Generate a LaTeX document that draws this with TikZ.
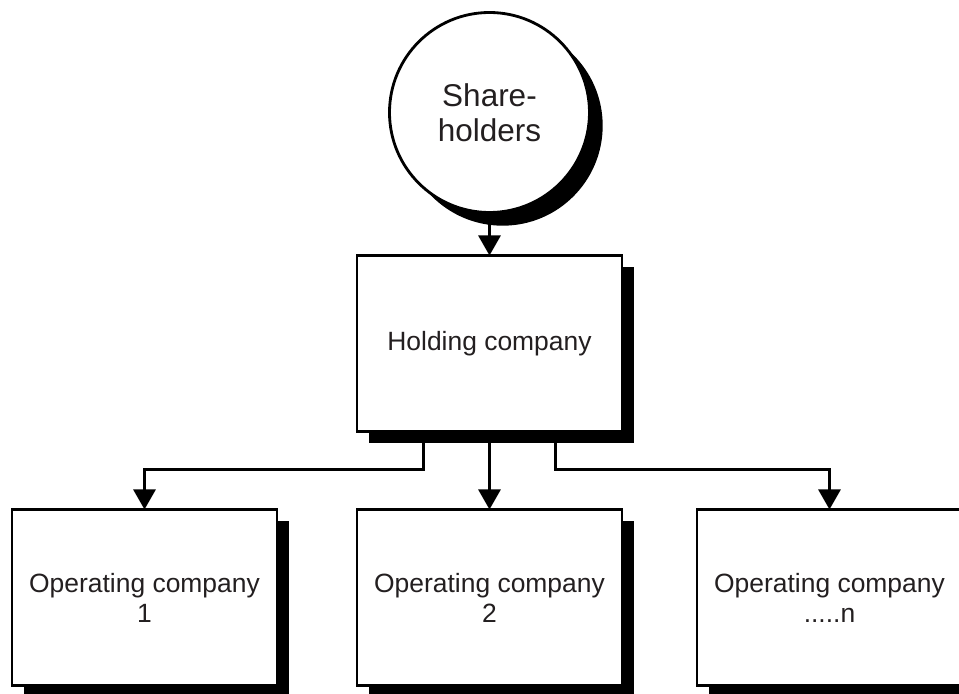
\documentclass[tikz,border=0pt]{standalone}
\usepackage{fontspec}
\setmainfont{Liberation Sans}
\usepackage{xcolor}
\usetikzlibrary{arrows.meta, positioning, shadows}
\definecolor{txtgray}{RGB}{35, 31, 32}

\begin{document}
\begin{tikzpicture}[
        company/.style={rectangle, draw=black, fill=white, line width=1.8pt, inner sep=0pt, outer sep=0pt, minimum width=6.625cm, minimum height=4.4cm, align=center, text=txtgray, font=\fontsize{18.8}{21.3}\selectfont, drop shadow={shadow xshift=0.3cm, shadow yshift=-0.3cm, fill=black, opacity=1}},
        owners/.style={circle, draw=black, fill=white, line width=2pt, inner sep=0pt, outer sep=0pt, minimum size=5cm, align=center, text=txtgray, font=\fontsize{22.4}{24.9}\selectfont, drop shadow={shadow xshift=0.33cm, shadow yshift=-0.33cm, fill=black, opacity=1}},
        arrow/.style={-{Triangle[width=0.55cm, length=0.5cm]}, line width=2pt, black},
        node distance=1.95cm
    ]
        \useasboundingbox (-12.2375,-8.7625) rectangle (11.7375,8.5875);

        % Nodes
        \node (holding) [company] {Holding company};
        \node (share) [owners, above=1.075cm of holding] {Share-\\holders};
        \node (op2) [company, below=of holding] {Operating company\\2};
        \node (op1) [company, left=2cm of op2] {Operating company\\1};
        \node (op3) [company, right=1.875cm of op2] {Operating company\\.....n};

        % Split points
        \coordinate (lsplit) at ([xshift=-1.65cm, yshift=-0.95cm]holding.south);
        \coordinate (rsplit) at ([xshift=1.65cm, yshift=-0.95cm]holding.south);

        % Arrows
        \draw [arrow] (share) -- (holding);
        \draw [arrow] (holding) -- (op2);
        \draw [arrow] ([xshift=-1.65cm]holding.south) -- (lsplit) -| (op1.north);
        \draw [arrow] ([xshift=1.65cm]holding.south) -- (rsplit) -| (op3.north);

    \end{tikzpicture}
\end{document}
